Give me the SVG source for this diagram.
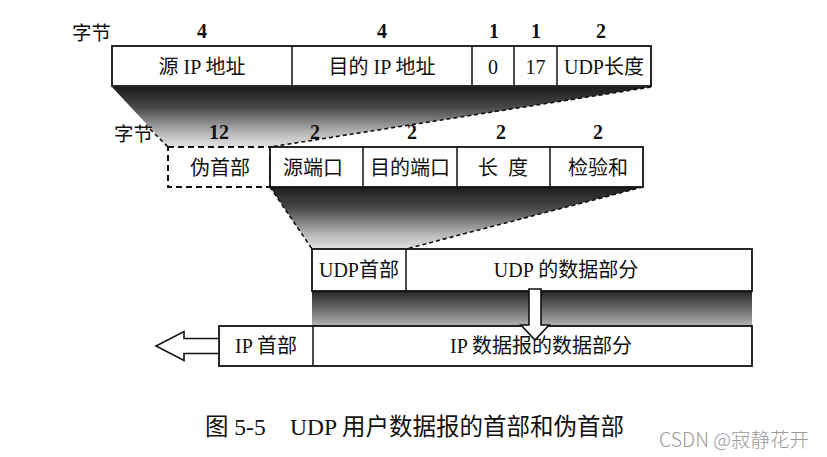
<svg xmlns="http://www.w3.org/2000/svg" width="827" height="457" viewBox="0 0 827 457">
<style>
text{font-family:"Liberation Serif","Noto Sans CJK SC",serif;fill:#111}
.lbl{font-size:20px;text-anchor:middle;dominant-baseline:central}
.num{font-size:20px;font-weight:bold;text-anchor:middle;dominant-baseline:central}
.zj{font-family:"Noto Sans CJK SC",sans-serif;font-size:19.5px;dominant-baseline:central}
.box{fill:#fff;stroke:#111;stroke-width:1.8}
.dbox{fill:#fff;stroke:#111;stroke-width:2;stroke-dasharray:6 4}
.div{stroke:#111;stroke-width:1.5}
.dash{fill:none;stroke:#111;stroke-width:1.6;stroke-dasharray:4 3}
.arr{fill:#fff;stroke:#111;stroke-width:1.6;stroke-linejoin:miter}
.cap{font-size:23.5px;dominant-baseline:central}
.wm{font-family:"Noto Sans CJK SC",sans-serif;font-size:19.5px;fill:#9a9a9a;font-weight:300}
</style>
<defs>
<linearGradient id="g1" x1="0" y1="0" x2="0" y2="1">
<stop offset="0" stop-color="#1c1c1c"/>
<stop offset="0.35" stop-color="#4a4a4a"/>
<stop offset="0.75" stop-color="#b4b4b4"/>
<stop offset="1" stop-color="#e2e2e2"/>
</linearGradient>
<linearGradient id="g3" x1="0" y1="0" x2="0" y2="1">
<stop offset="0" stop-color="#262626"/>
<stop offset="0.5" stop-color="#6a6a6a"/>
<stop offset="1" stop-color="#b8b8b8"/>
</linearGradient>
</defs>
<rect width="827" height="457" fill="#fff"/>

<g id="connectors">
<polygon points="112,87 651,87 270,147 168,147" fill="url(#g1)"/>
<line class="dash" x1="651" y1="87" x2="270" y2="147"/>
<line class="dash" x1="150" y1="129" x2="168" y2="147" stroke-dasharray="3 3"/>
<polygon points="270,187 643,187 406,249 312,249" fill="url(#g1)"/>
<line class="dash" x1="643" y1="187" x2="406" y2="249"/>
<line class="dash" x1="270" y1="187" x2="312" y2="249" stroke-dasharray="3 3"/>
<rect x="312" y="291" width="440" height="36" fill="url(#g3)"/>
</g>

<g id="ip-pseudo-fields">
<text class="zj" x="72" y="31">字节</text>
<text class="num" x="202" y="31">4</text>
<text class="num" x="382" y="31">4</text>
<text class="num" x="494" y="31">1</text>
<text class="num" x="536" y="31">1</text>
<text class="num" x="601" y="31">2</text>
<rect class="box" x="112" y="46" width="539" height="40"/>
<line class="div" x1="292" y1="46" x2="292" y2="86"/>
<line class="div" x1="472" y1="46" x2="472" y2="86"/>
<line class="div" x1="514" y1="46" x2="514" y2="86"/>
<line class="div" x1="557" y1="46" x2="557" y2="86"/>
<text class="lbl" x="202" y="67">源 IP 地址</text>
<text class="lbl" x="382" y="67">目的 IP 地址</text>
<text class="lbl" x="493" y="67">0</text>
<text class="lbl" x="535.5" y="67">17</text>
<text class="lbl" x="604" y="67">UDP长度</text>
</g>

<g id="udp-header">
<text class="zj" x="114" y="132">字节</text>
<text class="num" x="219" y="132">12</text>
<text class="num" x="315" y="132">2</text>
<text class="num" x="412" y="132">2</text>
<text class="num" x="501" y="132">2</text>
<text class="num" x="598" y="132">2</text>
<rect class="dbox" x="168" y="147" width="102" height="40"/>
<rect class="box" x="270" y="147" width="373" height="40"/>
<line class="div" x1="363" y1="147" x2="363" y2="187"/>
<line class="div" x1="457" y1="147" x2="457" y2="187"/>
<line class="div" x1="550" y1="147" x2="550" y2="187"/>
<text class="lbl" x="220" y="168">伪首部</text>
<text class="lbl" x="313" y="168">源端口</text>
<text class="lbl" x="410" y="168">目的端口</text>
<text class="lbl" x="503" y="168" xml:space="preserve">长  度</text>
<text class="lbl" x="598" y="168">检验和</text>
</g>

<g id="udp-datagram">
<rect class="box" x="312" y="249" width="440" height="42"/>
<line class="div" x1="406" y1="249" x2="406" y2="291"/>
<text class="lbl" x="359" y="270">UDP首部</text>
<text class="lbl" x="566" y="270">UDP 的数据部分</text>
</g>

<g id="ip-datagram">
<rect class="box" x="219" y="326" width="533" height="40"/>
<line class="div" x1="313" y1="326" x2="313" y2="366"/>
<text class="lbl" x="266" y="346">IP 首部</text>
<text class="lbl" x="541" y="346">IP 数据报的数据部分</text>
</g>

<g id="arrows">
<polygon class="arr" points="529,289 541,289 541,325 549,325 535,340 521,325 529,325"/>
<polygon class="arr" points="219,338.5 184,338.5 184,331.5 156,346 184,360.5 184,353.5 219,353.5"/>
</g>

<g id="caption">
<text class="cap" x="205" y="427">图 5-5<tspan x="290">UDP 用户数据报的首部和伪首部</tspan></text>
<text class="wm" x="659" y="438" dominant-baseline="central">CSDN @寂静花开</text>
</g>
</svg>
